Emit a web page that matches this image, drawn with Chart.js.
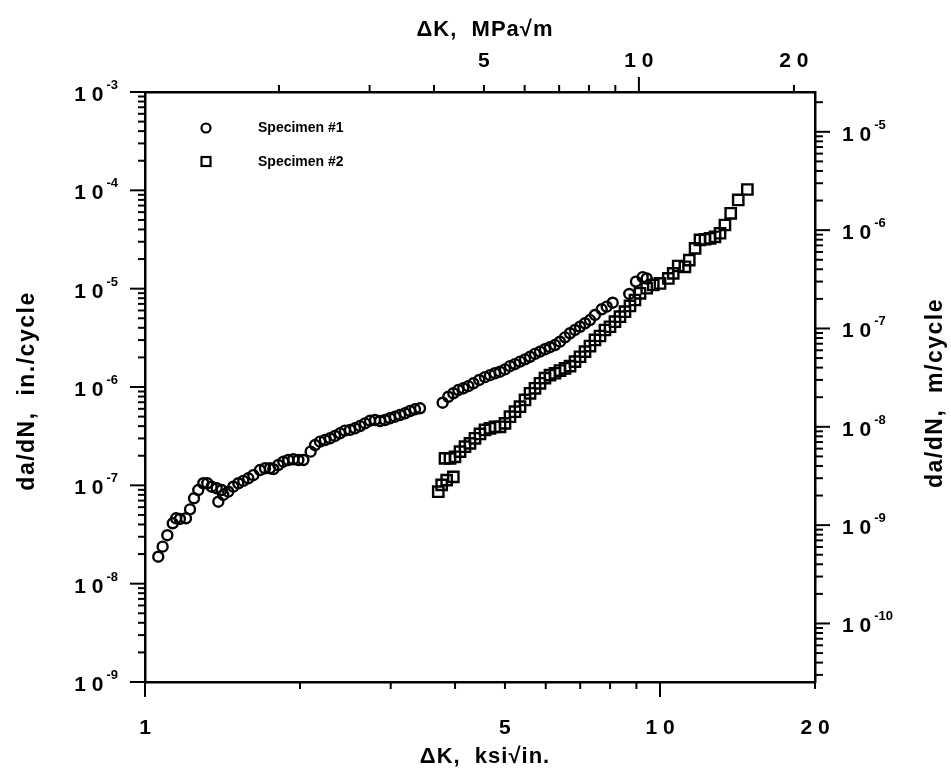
<!DOCTYPE html>
<html>
<head>
<meta charset="utf-8">
<script src="https://cdn.jsdelivr.net/npm/chart.js@4"></script>
<style>
  body { margin: 0; background: #fff; }
</style>
</head>
<body>
<canvas id="fcgChart" width="951" height="771"></canvas>
<script>
// Specimen #1 (circles): dK in ksi*sqrt(in.), da/dN in in./cycle
const spec1K = [1.061, 1.082, 1.105, 1.132, 1.149, 1.169, 1.201, 1.223, 1.245, 1.269,
  1.298, 1.321, 1.347, 1.378, 1.409, 1.388, 1.419, 1.451, 1.484, 1.518,
  1.552, 1.587, 1.623, 1.672, 1.710, 1.748, 1.775, 1.815, 1.856, 1.898,
  1.941, 1.985, 2.030, 2.097, 2.139, 2.187, 2.236, 2.287, 2.339, 2.391,
  2.445, 2.501, 2.557, 2.615, 2.674, 2.735, 2.797, 2.860, 2.924, 2.990,
  3.058, 3.127, 3.198, 3.270, 3.344, 3.420,
  3.784, 3.881, 3.969, 4.059, 4.150, 4.245, 4.341, 4.458, 4.573, 4.677,
  4.782, 4.891, 5.001, 5.114, 5.230, 5.348, 5.469, 5.593, 5.719, 5.848,
  5.980, 6.115, 6.254, 6.395, 6.540, 6.688, 6.839, 6.994, 7.152, 7.313,
  7.478, 7.706, 7.880, 8.095, 8.717, 8.981, 9.256, 9.424];
const spec1Rate = [1.88e-8, 2.38e-8, 3.11e-8, 4.11e-8, 4.62e-8, 4.55e-8, 4.62e-8, 5.70e-8, 7.38e-8, 8.95e-8,
  1.05e-7, 1.05e-7, 9.68e-8, 9.33e-8, 8.95e-8, 6.81e-8, 7.98e-8, 8.61e-8, 9.68e-8, 1.05e-7,
  1.11e-7, 1.18e-7, 1.27e-7, 1.43e-7, 1.49e-7, 1.49e-7, 1.46e-7, 1.61e-7, 1.74e-7, 1.81e-7,
  1.84e-7, 1.81e-7, 1.81e-7, 2.20e-7, 2.57e-7, 2.78e-7, 2.89e-7, 3.01e-7, 3.18e-7, 3.38e-7,
  3.60e-7, 3.66e-7, 3.80e-7, 4.01e-7, 4.27e-7, 4.54e-7, 4.61e-7, 4.51e-7, 4.61e-7, 4.81e-7,
  4.99e-7, 5.19e-7, 5.40e-7, 5.70e-7, 5.93e-7, 6.07e-7,
  6.92e-7, 7.96e-7, 8.63e-7, 9.31e-7, 9.70e-7, 1.02e-6, 1.09e-6, 1.18e-6, 1.26e-6, 1.32e-6,
  1.38e-6, 1.43e-6, 1.51e-6, 1.63e-6, 1.71e-6, 1.81e-6, 1.91e-6, 2.03e-6, 2.17e-6, 2.29e-6,
  2.42e-6, 2.54e-6, 2.67e-6, 2.89e-6, 3.20e-6, 3.52e-6, 3.80e-6, 4.10e-6, 4.45e-6, 4.80e-6,
  5.40e-6, 6.17e-6, 6.56e-6, 7.20e-6, 8.83e-6, 1.18e-5, 1.31e-5, 1.27e-5];

// Specimen #2 (squares)
const spec2K = [3.711, 3.768, 3.853, 3.969, 3.824, 3.911, 3.999, 4.090, 4.182, 4.276,
  4.373, 4.472, 4.573, 4.677, 4.782, 4.891, 5.001, 5.114, 5.230, 5.348,
  5.469, 5.593, 5.719, 5.848, 5.980, 6.115, 6.254, 6.395, 6.540, 6.688,
  6.839, 6.994, 7.152, 7.313, 7.478, 7.647, 7.820, 7.997, 8.177, 8.362,
  8.551, 8.744, 8.942, 9.146, 9.424, 9.705, 10.00, 10.38, 10.61, 10.85,
  11.18, 11.40, 11.70, 11.96, 12.23, 12.51, 12.79, 13.08, 13.37, 13.72,
  14.19, 14.78];
const spec2Rate = [8.61e-8, 1.01e-7, 1.13e-7, 1.22e-7, 1.88e-7, 1.88e-7, 1.95e-7, 2.20e-7, 2.47e-7, 2.67e-7,
  3.01e-7, 3.33e-7, 3.66e-7, 3.80e-7, 3.94e-7, 3.94e-7, 4.27e-7, 4.99e-7, 5.61e-7, 6.31e-7,
  7.38e-7, 8.63e-7, 9.70e-7, 1.09e-6, 1.23e-6, 1.32e-6, 1.38e-6, 1.47e-6, 1.55e-6, 1.63e-6,
  1.81e-6, 2.03e-6, 2.29e-6, 2.61e-6, 3.01e-6, 3.30e-6, 3.80e-6, 4.10e-6, 4.61e-6, 5.19e-6,
  5.83e-6, 6.67e-6, 7.67e-6, 8.97e-6, 1.01e-5, 1.09e-5, 1.13e-5, 1.27e-5, 1.43e-5, 1.70e-5,
  1.67e-5, 1.95e-5, 2.57e-5, 3.13e-5, 3.18e-5, 3.25e-5, 3.37e-5, 3.66e-5, 4.44e-5, 5.84e-5,
  7.98e-5, 1.02e-4];

// axis ticks
const ksiTicks = [1, 2, 3, 4, 5, 6, 7, 8, 9, 10, 20];
const ksiLabels = { 1: '1', 5: '5', 10: '1 0', 20: '2 0' };
const mpaTicks = [2, 3, 4, 5, 6, 7, 8, 9, 10, 20];
const mpaLabels = { 5: '5', 10: '1 0', 20: '2 0' };
const inchExponents = [-3, -4, -5, -6, -7, -8, -9];
const meterExponents = [-5, -6, -7, -8, -9, -10];

const KSI_TO_MPA = 1.0988;
const IN_TO_M = 0.0254;
const FONT = '"Liberation Sans", Arial, Helvetica, sans-serif';

function toPoints(xs, ys) {
  return xs.map((x, i) => ({ x: x, y: ys[i] }));
}

function logMarks(min, max) {
  const out = [];
  const lo = Math.floor(Math.log10(min));
  const hi = Math.ceil(Math.log10(max));
  for (let e = lo; e <= hi; e++) {
    for (let k = 1; k <= 9; k++) {
      const v = k * Math.pow(10, e);
      if (v >= min * 0.999 && v <= max * 1.001) out.push({ v: v, major: k === 1 });
    }
  }
  return out;
}

function fixSize(prop, size) {
  return function(scale) { scale[prop] = size; };
}

function powerLabel(ctx, edge, y, exp, align) {
  const base = '1 0';
  const sup = '-' + Math.abs(exp);
  ctx.font = 'bold 21px ' + FONT;
  const wBase = ctx.measureText(base).width;
  ctx.font = 'bold 13px ' + FONT;
  const wSup = ctx.measureText(sup).width;
  const total = wBase + 3 + wSup;
  const x0 = align === 'right' ? edge - total : edge;
  ctx.textAlign = 'left';
  ctx.textBaseline = 'alphabetic';
  ctx.font = 'bold 21px ' + FONT;
  ctx.fillText(base, x0, y + 9);
  ctx.font = 'bold 13px ' + FONT;
  ctx.fillText(sup, x0 + wBase + 3, y - 3);
}

const axisDecor = {
  id: 'axisDecor',
  afterDraw(chart) {
    const { ctx, chartArea: a, scales } = chart;
    ctx.save();
    ctx.strokeStyle = '#000';
    ctx.fillStyle = '#000';
    ctx.lineWidth = 2;
    ctx.lineCap = 'butt';
    const seg = (x1, y1, x2, y2) => {
      ctx.beginPath(); ctx.moveTo(x1, y1); ctx.lineTo(x2, y2); ctx.stroke();
    };

    ksiTicks.forEach(v => {
      const px = scales.x.getPixelForValue(v);
      seg(px, a.bottom, px, a.bottom + (v === 1 || v === 10 ? 15 : 7));
    });
    mpaTicks.forEach(v => {
      const px = scales.x2.getPixelForValue(v);
      seg(px, a.top, px, a.top - (v === 10 ? 15 : 7));
    });
    logMarks(scales.y.min, scales.y.max).forEach(t => {
      const py = scales.y.getPixelForValue(t.v);
      seg(a.left, py, a.left - (t.major ? 15 : 7), py);
    });
    logMarks(scales.y2.min, scales.y2.max).forEach(t => {
      const py = scales.y2.getPixelForValue(t.v);
      seg(a.right, py, a.right + (t.major ? 15 : 8), py);
    });

    inchExponents.forEach(e => {
      powerLabel(ctx, 118, scales.y.getPixelForValue(Math.pow(10, e)), e, 'right');
    });
    meterExponents.forEach(e => {
      powerLabel(ctx, 842, scales.y2.getPixelForValue(Math.pow(10, e)), e, 'left');
    });

    // axis titles
    ctx.textAlign = 'center';
    ctx.textBaseline = 'middle';
    ctx.letterSpacing = '1px';
    ctx.font = 'bold 22px ' + FONT;
    ctx.fillText('\u0394K,  MPa\u221Am', 485, 30);
    ctx.fillText('\u0394K,  ksi\u221Ain.', 485, 757);
    ctx.letterSpacing = '1.5px';
    ctx.font = 'bold 23px ' + FONT;
    ctx.save();
    ctx.translate(28, 391);
    ctx.rotate(-Math.PI / 2);
    ctx.fillText('da/dN,  in./cycle', 0, 0);
    ctx.restore();
    ctx.save();
    ctx.translate(936, 393);
    ctx.rotate(-Math.PI / 2);
    ctx.fillText('da/dN,  m/cycle', 0, 0);
    ctx.restore();
    ctx.letterSpacing = '0px';

    // legend
    const lx = a.left + 61;
    ctx.lineWidth = 2.2;
    ctx.beginPath();
    ctx.arc(lx, a.top + 36, 4.5, 0, Math.PI * 2);
    ctx.stroke();
    ctx.strokeRect(lx - 4.5, a.top + 65, 9, 9);
    ctx.font = 'bold 14px ' + FONT;
    ctx.textAlign = 'left';
    ctx.fillText('Specimen #1', a.left + 113, a.top + 36);
    ctx.fillText('Specimen #2', a.left + 113, a.top + 70);
    ctx.restore();
  }
};

const border = { display: true, color: '#000', width: 2.5 };
const tickFont = { family: FONT, size: 21, weight: 'bold' };

const ctx = document.getElementById('fcgChart').getContext('2d');
const chart = new Chart(ctx, {
  type: 'scatter',
  data: {
    datasets: [
      {
        label: 'Specimen #1',
        data: toPoints(spec1K, spec1Rate),
        xAxisID: 'x',
        yAxisID: 'y',
        pointStyle: 'circle',
        pointRadius: 5,
        pointBorderWidth: 2.4,
        borderColor: '#000',
        backgroundColor: 'rgba(0,0,0,0)'
      },
      {
        label: 'Specimen #2',
        data: toPoints(spec2K, spec2Rate),
        xAxisID: 'x',
        yAxisID: 'y',
        pointStyle: 'rect',
        pointRadius: 7.3,
        pointBorderWidth: 2.4,
        borderColor: '#000',
        backgroundColor: 'rgba(0,0,0,0)'
      }
    ]
  },
  options: {
    responsive: false,
    animation: false,
    devicePixelRatio: 1,
    layout: { padding: 0 },
    plugins: {
      legend: { display: false },
      tooltip: { enabled: false }
    },
    scales: {
      x: {
        type: 'logarithmic',
        position: 'bottom',
        min: 1,
        max: 20,
        grid: { display: false },
        border: border,
        afterBuildTicks: s => { s.ticks = ksiTicks.map(v => ({ value: v })); },
        afterFit: fixSize('height', 89),
        ticks: {
          autoSkip: false,
          maxRotation: 0,
          padding: 26,
          color: '#000',
          font: tickFont,
          callback: v => ksiLabels[v] || ''
        }
      },
      x2: {
        type: 'logarithmic',
        position: 'top',
        min: 1 * KSI_TO_MPA,
        max: 20 * KSI_TO_MPA,
        grid: { display: false },
        border: border,
        afterBuildTicks: s => { s.ticks = mpaTicks.map(v => ({ value: v })); },
        afterFit: fixSize('height', 92),
        ticks: {
          autoSkip: false,
          maxRotation: 0,
          padding: 10,
          color: '#000',
          font: tickFont,
          callback: v => mpaLabels[v] || ''
        }
      },
      y: {
        type: 'logarithmic',
        position: 'left',
        min: 1e-9,
        max: 1e-3,
        grid: { display: false },
        border: border,
        afterFit: fixSize('width', 145),
        ticks: { display: false }
      },
      y2: {
        type: 'logarithmic',
        position: 'right',
        min: 1e-9 * IN_TO_M,
        max: 1e-3 * IN_TO_M,
        grid: { display: false },
        border: border,
        afterFit: fixSize('width', 136),
        ticks: { display: false }
      }
    }
  },
  plugins: [axisDecor]
});
</script>
</body>
</html>
